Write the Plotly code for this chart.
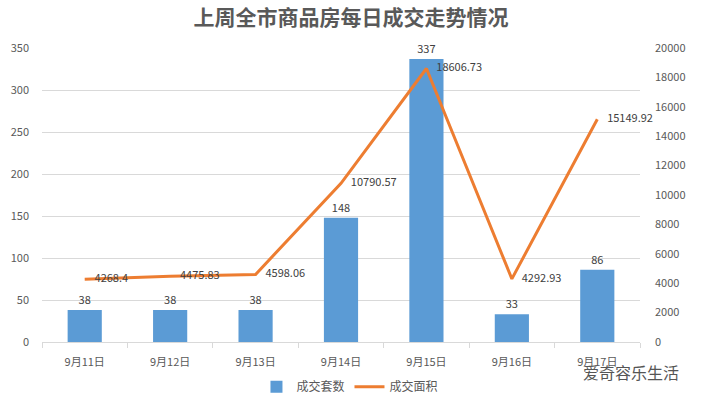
import plotly.graph_objects as go

categories = ["9月11日", "9月12日", "9月13日", "9月14日", "9月15日", "9月16日", "9月17日"]
units = [38, 38, 38, 148, 337, 33, 86]
area = [4268.4, 4475.83, 4598.06, 10790.57, 18606.73, 4292.93, 15149.92]
area_labels = ["4268.4", "4475.83", "4598.06", "10790.57", "18606.73", "4292.93", "15149.92"]

font_family = "Noto Sans CJK SC, Microsoft YaHei, sans-serif"
pad = "\u00a0\u00a0\u00a0\u00a0"

fig = go.Figure()
fig.add_trace(go.Bar(
    x=categories, y=units, name="成交套数",
    marker=dict(color="#5B9BD5", line=dict(width=0)),
    text=[str(v) for v in units], textposition="outside",
    textfont=dict(size=11, color="#404040", family=font_family),
    cliponaxis=False,
))
fig.add_trace(go.Scatter(
    x=categories, y=area, name="成交面积", yaxis="y2",
    mode="lines+text", line=dict(color="#ED7D31", width=3),
    text=[pad + t for t in area_labels], textposition="middle right",
    textfont=dict(size=11, color="#404040", family=font_family),
    cliponaxis=False,
))

fig.update_layout(
    width=702, height=401,
    margin=dict(l=42, r=62, t=48, b=59, autoexpand=False),
    paper_bgcolor="white", plot_bgcolor="white",
    font=dict(family=font_family, size=11, color="#595959"),
    title=dict(text="<b>上周全市商品房每日成交走势情况</b>", x=0.5, xanchor="center",
               xref="container", y=0.955, yanchor="middle",
               font=dict(size=21, color="#595959", family=font_family)),
    bargap=0.6,
    showlegend=True,
    legend=dict(orientation="h", x=0.515, xanchor="center", y=-0.152, yanchor="middle",
                font=dict(size=12, color="#595959"), itemwidth=30),
    xaxis=dict(showgrid=False, showline=True, linecolor="#D9D9D9", ticks="outside",
               tickson="boundaries", ticklen=5, tickcolor="#D9D9D9",
               tickfont=dict(size=11, color="#595959"), ticklabelstandoff=10),
    yaxis=dict(range=[0, 350], dtick=50, showgrid=True, gridcolor="#D9D9D9",
               zeroline=False, ticks="", tickfont=dict(size=11, color="#595959"), ticklabelstandoff=12),
    yaxis2=dict(range=[0, 20000], dtick=2000, tickformat="d", overlaying="y", side="right",
                showgrid=False, zeroline=False, tickfont=dict(size=11, color="#595959"),
                ticklabelstandoff=14),
)
fig.add_annotation(text="爱奇容乐生活", xref="paper", yref="paper", x=1.068, y=-0.102,
                   xanchor="right", yanchor="middle", showarrow=False,
                   font=dict(size=16, color="#555555"))

fig.write_html("out.html", config={"displayModeBar": False},
               post_script="document.body.style.margin='0';")
